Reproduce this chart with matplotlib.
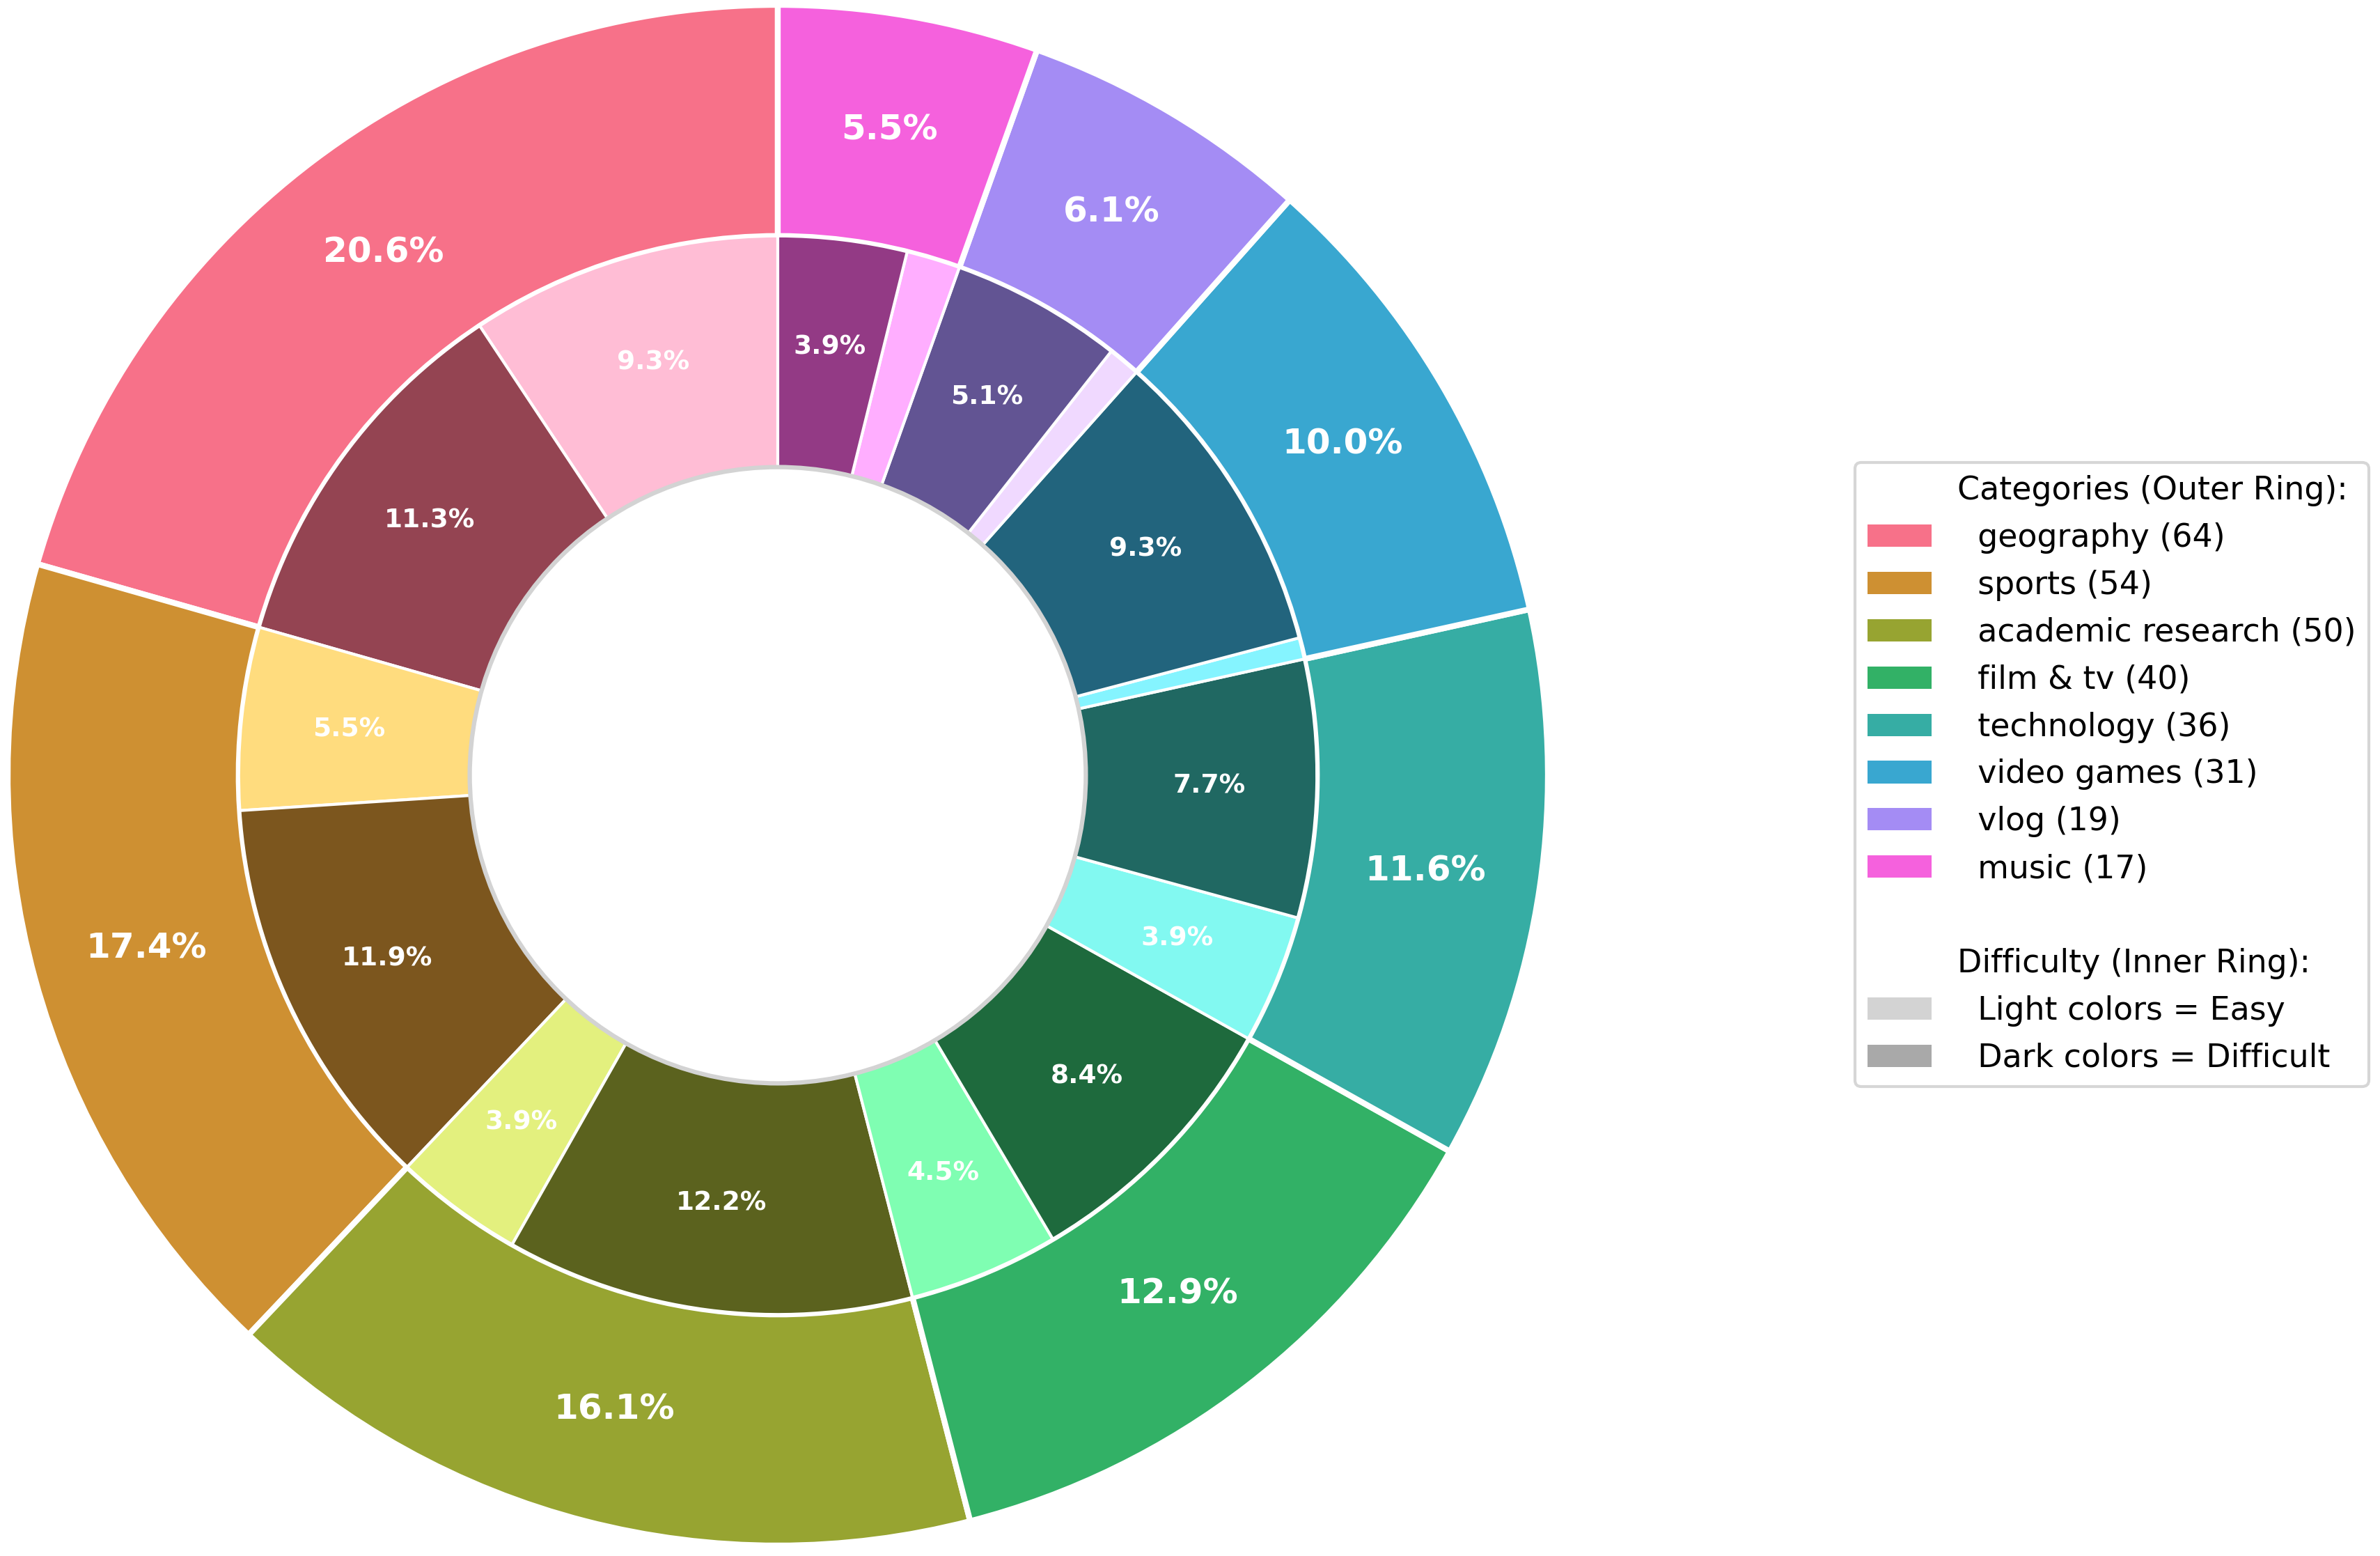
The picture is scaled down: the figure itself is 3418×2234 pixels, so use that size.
import matplotlib.pyplot as plt
import numpy as np
import seaborn as sns
from matplotlib.patches import Patch, Circle

categories = ['geography', 'sports', 'academic research', 'film & tv',
              'technology', 'video games', 'vlog', 'music']
counts = [64, 54, 50, 40, 36, 31, 19, 17]
easy = [29, 17, 12, 14, 12, 2, 3, 5]
difficult = [35, 37, 38, 26, 24, 29, 16, 12]

base = sns.color_palette('husl', len(categories))
light = [tuple(np.clip(np.array(c) + 0.3, 0, 1)) for c in base]
dark = [tuple(np.array(c) * 0.6) for c in base]

inner_vals = []
inner_cols = []
for e, d, lc, dc in zip(easy, difficult, light, dark):
    inner_vals += [e, d]
    inner_cols += [lc, dc]

W, H = 3418, 2234
fig = plt.figure(figsize=(W / 300, H / 300), dpi=300)
cx, cy, r = 1117, 1121, 1106
ax = fig.add_axes([(cx - r) / W, (cy - r) / H, 2 * r / W, 2 * r / H])

_, _, outer_txt = ax.pie(counts, radius=1, colors=base, startangle=90,
                         autopct='%1.1f%%', pctdistance=0.85,
                         wedgeprops=dict(width=0.3, edgecolor='white', linewidth=2))
for t in outer_txt:
    t.set_color('white')
    t.set_fontsize(12)
    t.set_fontweight('bold')

_, _, inner_txt = ax.pie(inner_vals, radius=0.7, colors=inner_cols, startangle=90,
                         autopct=lambda p: f'{p:.1f}%' if p > 2 else '',
                         pctdistance=0.8,
                         wedgeprops=dict(width=0.3, edgecolor='white', linewidth=1))
for t in inner_txt:
    t.set_color('white')
    t.set_fontsize(9)
    t.set_fontweight('bold')

ax.add_artist(Circle((0, 0), 0.4, facecolor='white', edgecolor='lightgray', linewidth=1.5))
ax.set_xlim(-1, 1)
ax.set_ylim(-1, 1)
ax.set_aspect('equal')
ax.axis('off')

blank = Patch(facecolor='none', edgecolor='none')
handles = [blank] + [Patch(facecolor=c) for c in base] + [blank, blank,
           Patch(facecolor='lightgray'), Patch(facecolor='darkgray')]
labels = (['Categories (Outer Ring):']
          + [f'  {c} ({n})' for c, n in zip(categories, counts)]
          + [' ', 'Difficulty (Inner Ring):', '  Light colors = Easy',
             '  Dark colors = Difficult'])
fig.legend(handles, labels, loc='center left', bbox_to_anchor=(2664 / W, 1122 / H),
           borderaxespad=0, fontsize=11)

fig.savefig('out.png', dpi=300)
